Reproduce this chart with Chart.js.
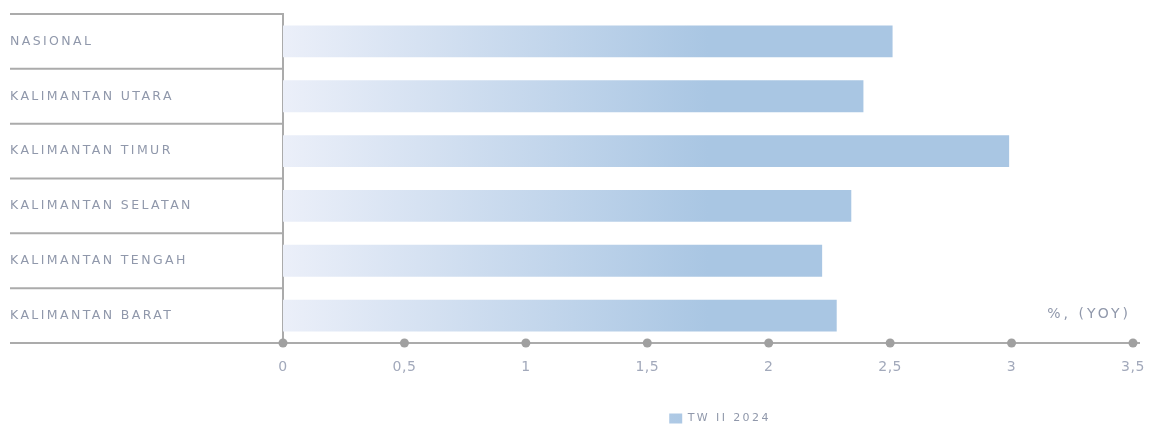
<!DOCTYPE html>
<html>
<head>
<meta charset="utf-8">
<script src="https://cdn.jsdelivr.net/npm/chart.js@4.4.1/dist/chart.umd.min.js"></script>
<style>
  html, body { margin: 0; padding: 0; background: #fff; }
  #wrap { width: 1155px; height: 424px; }
</style>
</head>
<body>
<div id="wrap"><canvas id="barChart"></canvas></div>
<script>
// data
var regions = ['NASIONAL', 'KALIMANTAN UTARA', 'KALIMANTAN TIMUR', 'KALIMANTAN SELATAN', 'KALIMANTAN TENGAH', 'KALIMANTAN BARAT'];
var growth = [2.51, 2.39, 2.99, 2.34, 2.22, 2.28];
var seriesName = 'TW II 2024';
var unitText = '%, (YOY)';

var lineGray = '#ababab';
var textGray = '#9098ab';

// separators in label area, long x axis line, dots on ticks, unit text
var decorPlugin = {
    id: 'decor',
    beforeDraw: function (chart) {
        // y labels + legend are drawn first (z 0), wide spacing
        chart.ctx.letterSpacing = '2.4px';
    },
    afterDatasetsDraw: function (chart) {
        // x tick labels have z 1, drawn after the bars
        chart.ctx.letterSpacing = '0.5px';
    },
    afterDraw: function (chart) {
        var ctx = chart.ctx;
        var area = chart.chartArea;
        var x = chart.scales.x;
        var y = chart.scales.y;
        var n = regions.length;
        ctx.save();
        ctx.strokeStyle = lineGray;
        ctx.lineWidth = 2;
        for (var i = 0; i < n; i++) {
            var yy = i === 0 ? area.top : (y.getPixelForValue(i - 1) + y.getPixelForValue(i)) / 2;
            ctx.beginPath();
            ctx.moveTo(10, yy);
            ctx.lineTo(area.left, yy);
            ctx.stroke();
        }
        ctx.beginPath();
        ctx.moveTo(10, area.bottom);
        ctx.lineTo(area.right + 7, area.bottom);
        ctx.stroke();

        ctx.fillStyle = '#a0a0a0';
        x.ticks.forEach(function (t) {
            ctx.beginPath();
            ctx.arc(x.getPixelForValue(t.value), area.bottom, 4.5, 0, Math.PI * 2);
            ctx.fill();
        });

        ctx.letterSpacing = '3px';
        ctx.fillStyle = textGray;
        ctx.font = '14px "DejaVu Sans"';
        ctx.textAlign = 'right';
        ctx.textBaseline = 'middle';
        ctx.fillText(unitText, area.right - 2, area.bottom - 29);
        ctx.restore();
        ctx.letterSpacing = '0px';
    }
};

var barChart = document.getElementById('barChart').getContext('2d');
var myBarChart = new Chart(barChart, {
    type: 'bar',
    data: {
        labels: regions,
        datasets: [{
            label: seriesName,
            data: growth,
            backgroundColor: function (c) {
                var area = c.chart.chartArea;
                if (!area) return '#a9c6e3';
                var g = c.chart.ctx.createLinearGradient(area.left, 0, area.right, 0);
                g.addColorStop(0, '#ebeff9');
                g.addColorStop(0.5, '#a9c6e3');
                g.addColorStop(1, '#a9c6e3');
                return g;
            },
            borderWidth: 0,
            categoryPercentage: 1,
            barPercentage: 0.58
        }]
    },
    options: {
        indexAxis: 'y',
        responsive: true,
        maintainAspectRatio: false,
        animation: false,
        layout: { padding: { top: 14, left: 10, right: 22, bottom: -10 } },
        plugins: {
            legend: {
                position: 'bottom',
                fullSize: false,
                labels: {
                    boxWidth: 13,
                    boxHeight: 10,
                    padding: 5,
                    color: textGray,
                    font: { family: 'DejaVu Sans', size: 11 }
                }
            },
            tooltip: { enabled: false }
        },
        scales: {
            x: {
                min: 0,
                max: 3.5,
                grid: { display: false },
                border: { display: true, color: lineGray, width: 2, z: 1 },
                afterFit: function (s) { s.height = 65; },
                ticks: {
                    z: 1,
                    stepSize: 0.5,
                    padding: 8,
                    color: '#a2a9bb',
                    font: { family: 'DejaVu Sans', size: 14 },
                    callback: function (v) { return String(v).replace('.', ','); }
                }
            },
            y: {
                grid: { display: false },
                border: { display: true, color: lineGray, width: 2 },
                afterFit: function (s) { s.width = 273; },
                ticks: {
                    crossAlign: 'far',
                    color: textGray,
                    font: { family: 'DejaVu Sans', size: 12.5 }
                }
            }
        }
    },
    plugins: [decorPlugin]
});
</script>
</body>
</html>
